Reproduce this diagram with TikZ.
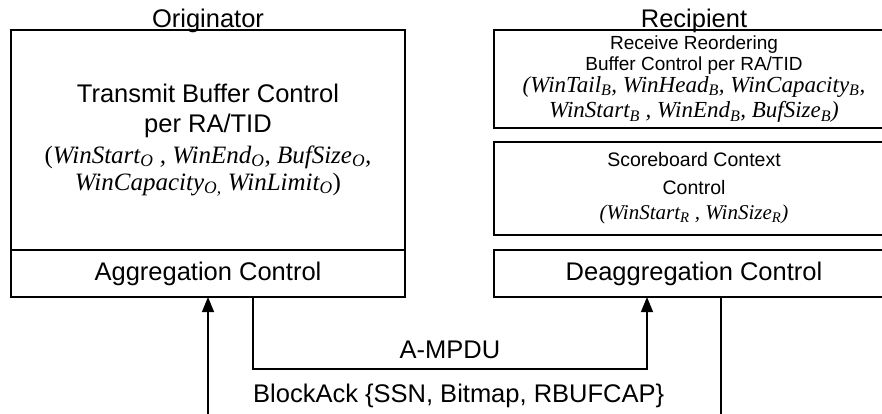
\documentclass[tikz,border=0pt]{standalone}
\usepackage{fontspec}
\setmainfont{Liberation Serif}
\setsansfont{Liberation Sans}
\usepackage{tikz}
\usetikzlibrary{arrows.meta,positioning}

% italic serif switch for the variable lists
\newcommand{\varfont}[1]{\rmfamily\itshape\fontsize{#1}{#1}\selectfont}
\newcommand{\sbs}[1]{\textsubscript{#1}}

\begin{document}
\begin{tikzpicture}[
  x=1pt, y=1pt,
  >={Triangle[length=15pt,width=12pt]},
  % one base style for all frames
  box/.style={rectangle, draw, line width=1.3pt, inner sep=0pt, outer sep=0pt,
              align=center, font=\sffamily\fontsize{25.5}{24}\selectfont},
  sbox/.style={box, font=\sffamily\fontsize{19}{21}\selectfont},
  conn/.style={line width=1.2pt},
  lbl/.style={font=\sffamily\fontsize{25.5}{25.5}\selectfont, inner sep=0pt},
]
\useasboundingbox (0,0) rectangle (882,413);
\clip (0,0) rectangle (882,413);

%% ── Originator ────────────────────────────────────────────────────
\node[box, minimum width=394pt, minimum height=220pt] (txbuf) at (208,273)
  {Transmit Buffer Control\\[6pt]
   per RA/TID\\[7pt]
   \fontsize{25}{25}\rmfamily\selectfont(\varfont{25}WinStart\sbs{O} , WinEnd\sbs{O}, BufSize\sbs{O},\\[3pt]
   \varfont{25}WinCapacity\sbs{O,} WinLimit\sbs{O}\upshape)};
\node[box, minimum width=394pt, minimum height=47pt,
      below=0pt of txbuf] (aggr) {Aggregation Control};
\node[lbl, anchor=base] (orig) at ([yshift=2pt]txbuf.north) {Originator};

%% ── Recipient ─────────────────────────────────────────────────────
\node[sbox, minimum width=400pt, minimum height=98pt] (rxbuf) at (694,334)
  {Receive Reordering\\
   Buffer Control per RA/TID\\[1pt]
   \varfont{23}(WinTail\sbs{B}, WinHead\sbs{B}, WinCapacity\sbs{B},\\[3.5pt]
   \varfont{23}WinStart\sbs{B} , WinEnd\sbs{B}, BufSize\sbs{B})};
\node[sbox, minimum width=400pt, minimum height=93pt,
      below=14pt of rxbuf] (score)
  {\fontsize{19.5}{21}\selectfont Scoreboard Context\\[7pt]
   \fontsize{19.5}{21}\selectfont Control\\[4pt]
   \varfont{21}(WinStart\sbs{R} , WinSize\sbs{R})};
\node[box, minimum width=400pt, minimum height=47pt,
      below=15pt of score] (deaggr) {Deaggregation Control};
\node[lbl, anchor=base] (recp) at ([yshift=2pt]rxbuf.north) {Recipient};

%% ── Connectors ────────────────────────────────────────────────────
\coordinate (txout)  at ([xshift=45pt]aggr.south);
\coordinate (rxin)   at ([xshift=-47pt]deaggr.south);
\coordinate (ackout) at ([xshift=27pt]deaggr.south);
\coordinate (ackfar) at (208,-2);
\coordinate (rxfar)  at (721,-2);

\draw[conn, ->] (txout) -- ++(0,-72) -| (rxin);
\draw[conn] (ackout) -- (rxfar);
\draw[conn, ->] (ackfar) -- (aggr.south);

\node[lbl, anchor=base] (ampdu) at (450,55) {A-MPDU};
\node[lbl, anchor=base west] (back) at (253,11) {BlockAck \{SSN, Bitmap, RBUFCAP\}};

\end{tikzpicture}
\end{document}
